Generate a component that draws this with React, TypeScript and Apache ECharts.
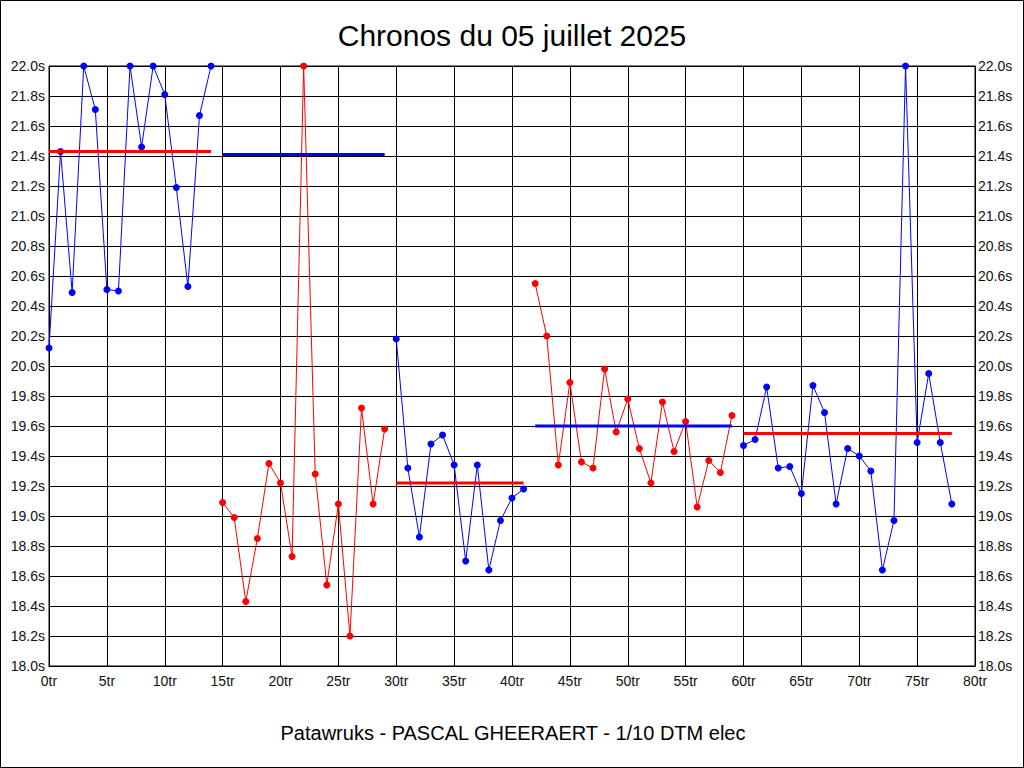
import React, { useEffect, useRef } from "react";
import * as echarts from "echarts";

const titleText = "Chronos du 05 juillet 2025";
const subtitleText = "Patawruks - PASCAL GHEERAERT - 1/10 DTM elec";

const xTicks = { min: 0, max: 80, interval: 5 };
const yTicks = { min: 18, max: 22, interval: 0.2 };

// Segments: start lap + lap times (seconds)
const seg1Start = 0;
const seg1Times = [20.12, 21.43, 20.49, 22.0, 21.71, 20.51, 20.5, 22.0, 21.46, 22.0, 21.81, 21.19, 20.53, 21.67, 22.0];
const seg1Avg = 21.43;

const seg2Start = 15;
const seg2Times = [19.09, 18.99, 18.43, 18.85, 19.35, 19.22, 18.73, 22.0, 19.28, 18.54, 19.08, 18.2, 19.72, 19.08, 19.58];
const seg2Avg = 21.41;

const seg3Start = 30;
const seg3Times = [20.18, 19.32, 18.86, 19.48, 19.54, 19.34, 18.7, 19.34, 18.64, 18.97, 19.12, 19.18];
const seg3Avg = 19.22;

const seg4Start = 42;
const seg4Times = [20.55, 20.2, 19.34, 19.89, 19.36, 19.32, 19.98, 19.56, 19.78, 19.45, 19.22, 19.76, 19.43, 19.63, 19.06, 19.37, 19.29, 19.67];
const seg4Avg = 19.6;

const seg5Start = 60;
const seg5Times = [19.47, 19.51, 19.86, 19.32, 19.33, 19.15, 19.87, 19.69, 19.08, 19.45, 19.4, 19.3, 18.64, 18.97, 22.0, 19.49, 19.95, 19.49, 19.08];
const seg5Avg = 19.55;

const BLUE = "#0000ff";
const RED = "#ff0000";

const segments = [
  { start: seg1Start, times: seg1Times, avg: seg1Avg, color: BLUE, avgColor: RED },
  { start: seg2Start, times: seg2Times, avg: seg2Avg, color: RED, avgColor: BLUE },
  { start: seg3Start, times: seg3Times, avg: seg3Avg, color: BLUE, avgColor: RED },
  { start: seg4Start, times: seg4Times, avg: seg4Avg, color: RED, avgColor: BLUE },
  { start: seg5Start, times: seg5Times, avg: seg5Avg, color: BLUE, avgColor: RED },
];

export default function App() {
  const ref = useRef<HTMLDivElement>(null);
  useEffect(() => {
    document.body.style.margin = "0";
    if (!ref.current) return;
    const chart = echarts.init(ref.current, undefined, { renderer: "svg" });
    const series: any[] = [];
    segments.forEach((s, i) => {
      series.push({
        name: "seg" + i,
        type: "line",
        data: s.times.map((t, k) => [s.start + k, t]),
        symbol: "circle",
        symbolSize: 7,
        lineStyle: { color: s.color, width: 1 },
        itemStyle: { color: s.color },
        z: 3,
      });
      series.push({
        name: "avg" + i,
        type: "line",
        data: [
          [s.start, s.avg],
          [s.start + s.times.length - 1, s.avg],
        ],
        symbol: "none",
        lineStyle: { color: s.avgColor, width: 3 },
        z: 4,
      });
    });
    const labelStyle = {
      color: "#111",
      fontFamily: "Liberation Sans, Arial, sans-serif",
      fontSize: 14,
    };
    chart.setOption({
      animation: false,
      backgroundColor: "#fff",
      grid: {
        left: 49,
        right: 49,
        top: 66,
        bottom: 102,
        show: true,
        borderColor: "#000",
        borderWidth: 1,
        containLabel: false,
      },
      xAxis: {
        type: "value",
        min: xTicks.min,
        max: xTicks.max,
        interval: xTicks.interval,
        axisLine: { show: true, lineStyle: { color: "#000", width: 1 } },
        axisTick: { show: false },
        splitLine: { show: true, lineStyle: { color: "#000", width: 1 } },
        axisLabel: { ...labelStyle, margin: 8, formatter: (v: number) => Math.round(v) + "tr" },
      },
      yAxis: [
        {
          type: "value",
          position: "left",
          min: yTicks.min,
          max: yTicks.max,
          interval: yTicks.interval,
          axisLine: { show: true, lineStyle: { color: "#000", width: 1 } },
          axisTick: { show: false },
          splitLine: { show: true, lineStyle: { color: "#000", width: 1 } },
          axisLabel: { ...labelStyle, margin: 4, formatter: (v: number) => v.toFixed(1) + "s" },
        },
        {
          type: "value",
          position: "right",
          min: yTicks.min,
          max: yTicks.max,
          interval: yTicks.interval,
          axisLine: { show: true, lineStyle: { color: "#000", width: 1 } },
          axisTick: { show: false },
          splitLine: { show: false },
          axisLabel: { ...labelStyle, margin: 3, formatter: (v: number) => v.toFixed(1) + "s" },
        },
      ],
      graphic: [
        {
          type: "rect",
          shape: { x: 0.5, y: 0.5, width: 1023, height: 767 },
          style: { fill: "none", stroke: "#000", lineWidth: 1 },
          z: 100,
          silent: true,
        },
        {
          type: "text",
          x: 512,
          y: 35,
          style: {
            text: titleText,
            fill: "#000",
            font: "30px 'Liberation Sans', Arial, sans-serif",
            align: "center",
            verticalAlign: "middle",
          },
        },
        {
          type: "text",
          x: 513,
          y: 733,
          style: {
            text: subtitleText,
            fill: "#000",
            font: "20px 'Liberation Sans', Arial, sans-serif",
            align: "center",
            verticalAlign: "middle",
          },
        },
      ],
      series,
    });
    return () => chart.dispose();
  }, []);
  return <div ref={ref} style={{ width: 1024, height: 768 }} />;
}
